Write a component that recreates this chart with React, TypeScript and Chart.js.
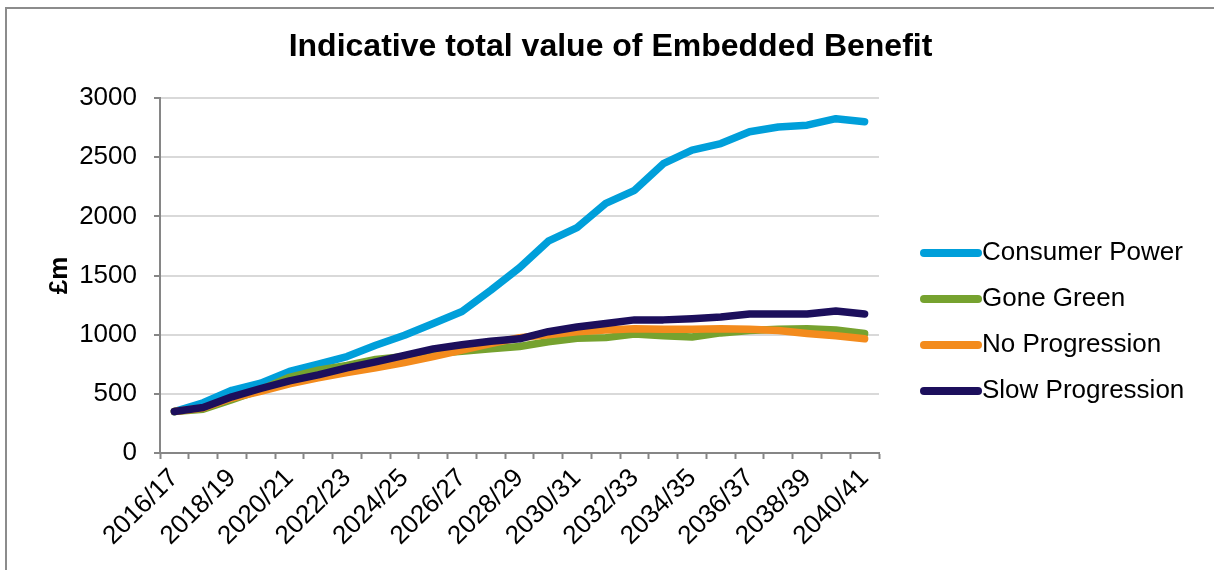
import { useEffect, useRef } from "react";
import { Chart, registerables } from "chart.js";

Chart.register(...registerables);

const categories = [
  "2016/17", "2017/18", "2018/19", "2019/20", "2020/21", "2021/22", "2022/23", "2023/24", "2024/25",
  "2025/26", "2026/27", "2027/28", "2028/29", "2029/30", "2030/31", "2031/32", "2032/33", "2033/34",
  "2034/35", "2035/36", "2036/37", "2037/38", "2038/39", "2039/40", "2040/41",
];

const consumerPower = [350, 425, 530, 590, 690, 750, 815, 910, 995, 1095, 1195, 1375, 1565, 1790, 1905, 2110, 2220, 2445, 2560, 2615, 2715, 2755, 2770, 2825, 2800];
const goneGreen = [350, 370, 450, 535, 640, 700, 740, 790, 815, 840, 860, 880, 900, 940, 970, 975, 1005, 990, 980, 1015, 1035, 1045, 1050, 1040, 1010];
const noProgression = [350, 380, 465, 520, 585, 635, 680, 720, 765, 815, 870, 925, 975, 1000, 1025, 1040, 1050, 1045, 1045, 1050, 1045, 1035, 1010, 990, 965];
const slowProgression = [350, 385, 475, 545, 610, 660, 720, 770, 825, 880, 915, 945, 965, 1025, 1065, 1095, 1125, 1125, 1135, 1150, 1175, 1175, 1175, 1200, 1175];

const seriesNames = ["Consumer Power", "Gone Green", "No Progression", "Slow Progression"];
const seriesColors = ["#009FDA", "#76A22F", "#F38B1D", "#1C0F5C"];

const yTicks = [0, 500, 1000, 1500, 2000, 2500, 3000];

const chartTitle = "Indicative total value of Embedded Benefit";

const FONT = '"Liberation Sans", Arial, sans-serif';

const decorations = {
  id: "decorations",
  afterDraw(chart: any) {
    const ctx = chart.ctx;
    const area = chart.chartArea;
    ctx.save();
    // title, centred over the whole canvas
    ctx.fillStyle = "#000";
    ctx.font = `bold 32px ${FONT}`;
    ctx.textAlign = "center";
    ctx.textBaseline = "middle";
    ctx.fillText(chartTitle, chart.width / 2, 38);
    // legend on the right
    chart.data.datasets.forEach((ds: any, i: number) => {
      const y = area.top + 155 + i * 46;
      const x0 = area.right + 45;
      ctx.strokeStyle = ds.borderColor;
      ctx.lineWidth = 8;
      ctx.lineCap = "round";
      ctx.beginPath();
      ctx.moveTo(x0, y);
      ctx.lineTo(x0 + 54, y);
      ctx.stroke();
      ctx.fillStyle = "#000";
      ctx.font = `26px ${FONT}`;
      ctx.textBaseline = "middle";
      ctx.textAlign = "left";
      ctx.fillText(ds.label, x0 + 58, y);
    });
    ctx.restore();
  },
};

export default function App() {
  const ref = useRef<HTMLCanvasElement>(null);

  useEffect(() => {
    document.body.style.overflow = "hidden";
    Chart.defaults.font.family = FONT;
    Chart.defaults.color = "#000";
    const series = [consumerPower, goneGreen, noProgression, slowProgression];
    const chart = new Chart(ref.current!, {
      type: "line",
      data: {
        labels: categories,
        datasets: series.map((d, i) => ({
          label: seriesNames[i],
          data: d,
          borderColor: seriesColors[i],
          backgroundColor: seriesColors[i],
          borderWidth: 7.5,
          pointRadius: 0,
          pointHoverRadius: 0,
          borderCapStyle: "round" as const,
          borderJoinStyle: "round" as const,
          tension: 0,
          fill: false,
          order: 4 - i,
        })),
      },
      options: {
        animation: false,
        responsive: false,
        events: [],
        layout: { padding: { left: 0, right: 335, top: 89, bottom: 0 } },
        plugins: {
          legend: { display: false },
          tooltip: { enabled: false },
          title: { display: false },
        },
        scales: {
          x: {
            type: "category",
            offset: true,
            grid: {
              offset: true,
              drawOnChartArea: false,
              drawTicks: true,
              tickLength: 6,
              tickColor: "#868686",
              tickWidth: 2,
            },
            border: { color: "#868686", width: 2 },
            ticks: {
              autoSkip: false,
              minRotation: 45,
              maxRotation: 45,
              padding: 4,
              font: { size: 26, family: FONT },
              color: "#000",
              callback: (_v: any, i: number) => (i % 2 === 0 ? categories[i] : ""),
            },
            afterFit: (s: any) => {
              s.height = 117;
            },
          },
          y: {
            min: 0,
            max: 3000,
            afterBuildTicks: (s: any) => {
              s.ticks = yTicks.map((v) => ({ value: v }));
            },
            grid: {
              color: "#D9D9D9",
              lineWidth: 2,
              drawTicks: true,
              tickLength: 6,
              tickColor: "#868686",
              tickWidth: 2,
            },
            border: { color: "#868686", width: 2 },
            ticks: {
              padding: 17,
              font: { size: 26, family: FONT },
              color: "#000",
              callback: (v: any) => String(v),
            },
            title: {
              display: true,
              text: "£m",
              font: { size: 26, weight: "bold", family: FONT },
              color: "#000",
              padding: { top: 37, bottom: 0 },
            },
            afterFit: (s: any) => {
              s.width = 153;
            },
          },
        },
      },
      plugins: [decorations],
    });
    return () => chart.destroy();
  }, []);

  return (
    <div
      style={{
        position: "fixed",
        left: 5,
        top: 7,
        width: 1209,
        height: 563,
        boxSizing: "border-box",
        borderTop: "2px solid #8c8c8c",
        borderLeft: "2px solid #8c8c8c",
        background: "#fff",
        overflow: "hidden",
      }}
    >
      <canvas ref={ref} width={1207} height={561} style={{ display: "block" }} />
    </div>
  );
}
